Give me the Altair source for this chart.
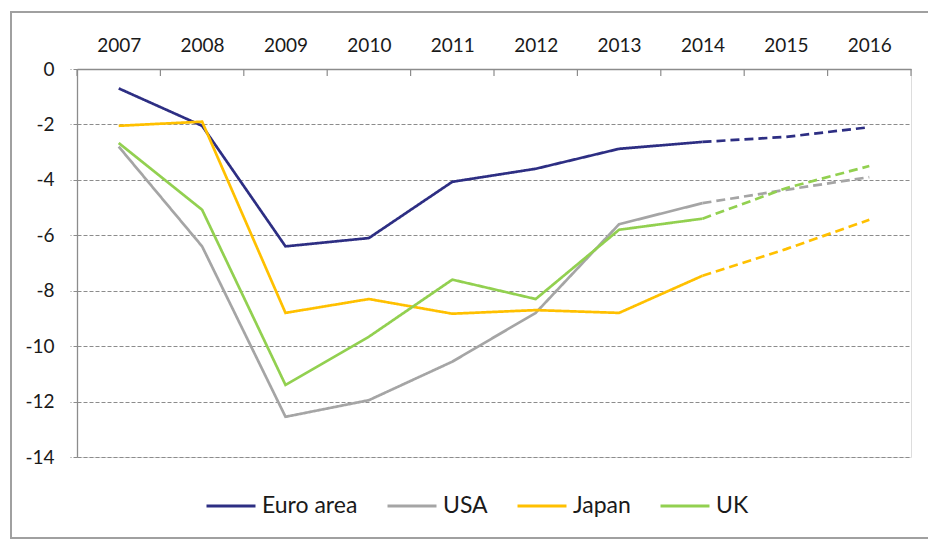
import altair as alt
import pandas as pd

years = [2007, 2008, 2009, 2010, 2011, 2012, 2013, 2014, 2015, 2016]
countries = ["Euro area", "USA", "Japan", "UK"]
euro = [-0.7, -2.05, -6.4, -6.1, -4.07, -3.6, -2.88, -2.63, -2.45, -2.1]
usa = [-2.8, -6.4, -12.55, -11.95, -10.56, -8.8, -5.6, -4.84, -4.36, -3.9]
japan = [-2.05, -1.9, -8.8, -8.3, -8.83, -8.7, -8.8, -7.46, -6.5, -5.44]
uk = [-2.67, -5.08, -11.4, -9.66, -7.6, -8.3, -5.8, -5.4, -4.3, -3.5]
colors = ["#2D2E83", "#A5A5A5", "#FFC000", "#92D050"]
last_actual = 2014

series = {"Euro area": euro, "USA": usa, "Japan": japan, "UK": uk}
rows = []
for c in countries:
    for y, v in zip(years, series[c]):
        if y <= last_actual:
            rows.append({"year": y, "value": v, "country": c, "seg": "actual"})
        if y >= last_actual:
            rows.append({"year": y, "value": v, "country": c, "seg": "forecast"})
df = pd.DataFrame(rows)

bounds = [y - 0.5 for y in years] + [years[-1] + 0.5]
tick_df = pd.DataFrame({"b": bounds})

FONT = "Lato"
xscale = alt.Scale(domain=[years[0] - 0.5, years[-1] + 0.5], nice=False, zero=False)
yscale = alt.Scale(domain=[-14, 0], nice=False)

lines = alt.Chart(df).mark_line(strokeWidth=2.7).encode(
    x=alt.X("year:Q", scale=xscale,
            axis=alt.Axis(orient="top", values=years, format="d", title=None,
                          tickSize=0, labelPadding=14, labelFontSize=19,
                          labelFont=FONT, labelColor="#1a1a1a", domainColor="#8c8c8c",
                          domainWidth=1.3, grid=False)),
    y=alt.Y("value:Q", scale=yscale,
            axis=alt.Axis(values=list(range(-14, 1, 2)), title=None, tickSize=7,
                          tickColor="#8c8c8c", tickDash=[4, 2], labelPadding=16,
                          labelExpr="datum.value + ''",
                          labelFontSize=19, labelFont=FONT, labelColor="#1a1a1a",
                          domainColor="#8c8c8c", domainWidth=1.3,
                          grid=True, gridColor="#8c8c8c", gridDash=[4, 2],
                          gridWidth=1)),
    color=alt.Color("country:N", scale=alt.Scale(domain=countries, range=colors),
                    sort=countries,
                    legend=alt.Legend(title=None, orient="none", direction="horizontal",
                                      legendX=128, legendY=411,
                                      symbolType="stroke", symbolSize=2400,
                                      symbolStrokeWidth=3, labelFont=FONT,
                                      labelFontSize=23, labelColor="#1a1a1a",
                                      labelOffset=5, columnPadding=23)),
    strokeDash=alt.StrokeDash("seg:N",
                              scale=alt.Scale(domain=["actual", "forecast"],
                                              range=[[1, 0], [9, 5]]),
                              legend=None),
    detail="seg:N",
)

ticks = alt.Chart(tick_df).mark_rule(color="#8c8c8c", strokeWidth=1.2).encode(
    x=alt.X("b:Q", scale=xscale),
    y=alt.value(0),
    y2=alt.value(7),
)

border = alt.Chart(tick_df).mark_rect(fill=None, stroke="#a0a0a0", strokeWidth=1.3).encode(
    x=alt.value(11 - 77), x2=alt.value(935 - 77),
    y=alt.value(12 - 69), y2=alt.value(538 - 69),
)

chart = alt.layer(border, ticks, lines).properties(
    width=834, height=388,
    autosize=alt.AutoSizeParams(type="none"),
    padding={"left": 77, "top": 69, "right": 17, "bottom": 86},
).configure_view(stroke=None).configure(background="white")

chart.save("out.html", embed_options={"renderer": "svg", "actions": False})
